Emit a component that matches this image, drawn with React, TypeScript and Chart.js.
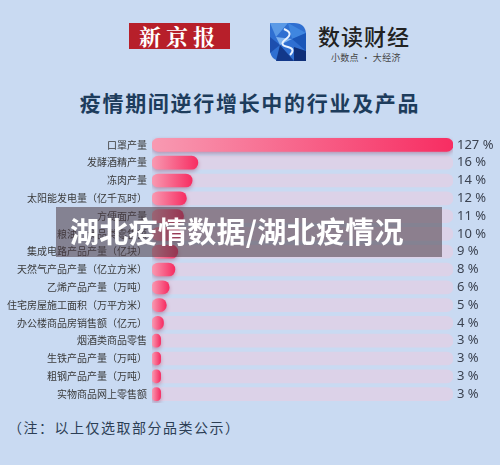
import React, { useEffect, useRef } from "react";
import { Chart, registerables } from "chart.js";

Chart.register(...registerables);

const categories = [
  "口罩产量",
  "发酵酒精产量",
  "冻肉产量",
  "太阳能发电量（亿千瓦时）",
  "方便面产量",
  "粮油、食品类零售额",
  "集成电路产品产量（亿块）",
  "天然气产品产量（亿立方米）",
  "乙烯产品产量（万吨）",
  "住宅房屋施工面积（万平方米）",
  "办公楼商品房销售额（亿元）",
  "烟酒类商品零售",
  "生铁产品产量（万吨）",
  "粗钢产品产量（万吨）",
  "实物商品网上零售额",
];
const growth = [127, 16, 14, 12, 11, 10, 9, 8, 6, 5, 4, 3, 3, 3, 3];
const valueSuffix = " %";
// axis is broken: the 127% bar is capped at the end of the track
const AXIS_MAX = 105;

const FONT = '"Noto Sans CJK SC", "Noto Sans", sans-serif';

export default function App() {
  const canvasRef = useRef<HTMLCanvasElement | null>(null);

  useEffect(() => {
    document.body.style.margin = "0";
    const canvas = canvasRef.current;
    if (!canvas) return;

    const shadowPlugin = {
      id: "barShadow",
      beforeDatasetDraw(chart: any, args: any) {
        if (args.index === 0) {
          const ctx = chart.ctx;
          ctx.save();
          ctx.shadowColor = "rgba(150,40,80,0.4)";
          ctx.shadowBlur = 4;
          ctx.shadowOffsetX = 0;
          ctx.shadowOffsetY = 2;
        }
      },
      afterDatasetDraw(chart: any, args: any) {
        if (args.index === 0) chart.ctx.restore();
      },
    };

    const valueLabels = {
      id: "valueLabels",
      afterDatasetsDraw(chart: any) {
        const ctx = chart.ctx;
        const meta = chart.getDatasetMeta(0);
        const right = chart.chartArea.right;
        ctx.save();
        ctx.font = `13px "Noto Sans", "DejaVu Sans", sans-serif`;
        ctx.fillStyle = "#3b4250";
        ctx.textAlign = "left";
        ctx.textBaseline = "middle";
        meta.data.forEach((el: any, i: number) => {
          ctx.fillText(`${growth[i]}${valueSuffix}`, right + 4, el.y);
        });
        ctx.restore();
      },
    };

    const chart = new Chart(canvas, {
      type: "bar",
      data: {
        labels: categories,
        datasets: [
          {
            data: growth.map((v) => Math.min(v, AXIS_MAX)),
            order: 1,
            grouped: false,
            barThickness: 13,
            borderRadius: 7,
            borderSkipped: false,
            backgroundColor: (c: any) => {
              const ch = c.chart;
              const xs = ch.scales && ch.scales.x;
              if (!xs || !ch.chartArea || c.raw == null) return "#f5527c";
              const x0 = xs.getPixelForValue(0);
              const x1 = xs.getPixelForValue(c.raw);
              if (!isFinite(x0) || !isFinite(x1) || x1 - x0 < 1) return "#f5527c";
              const g = ch.ctx.createLinearGradient(x0, 0, x1, 0);
              g.addColorStop(0, "#f89ab2");
              g.addColorStop(1, "#f72d62");
              return g;
            },
          } as any,
          {
            data: categories.map(() => AXIS_MAX),
            order: 2,
            grouped: false,
            barThickness: 13,
            borderRadius: 7,
            borderSkipped: false,
            backgroundColor: "#dcd2e8",
          } as any,
        ],
      },
      options: {
        indexAxis: "y",
        animation: false,
        responsive: true,
        maintainAspectRatio: false,
        layout: { padding: { left: 0, right: 47, top: 0, bottom: 0 } },
        plugins: {
          legend: { display: false },
          tooltip: { enabled: false },
        },
        scales: {
          x: {
            display: false,
            min: 0,
            max: AXIS_MAX,
          },
          y: {
            afterFit: (scale: any) => {
              scale.width = 152;
            },
            grid: { display: false, drawTicks: false },
            border: { display: false },
            ticks: {
              padding: 5,
              color: "#3a3a3a",
              font: { family: FONT, size: 10 },
              autoSkip: false,
            },
          },
        },
      },
      plugins: [shadowPlugin, valueLabels],
    } as any);

    return () => chart.destroy();
  }, []);

  return (
    <div
      style={{
        position: "fixed",
        left: 0,
        top: 0,
        width: 500,
        height: 465,
        background: "#c9daf2",
        overflow: "hidden",
        fontFamily: FONT,
      }}
    >
      {/* 新京报 logo */}
      <div
        style={{
          position: "absolute",
          left: 129,
          top: 23,
          width: 101,
          height: 26,
          background: "#b71f2a",
          color: "#fff",
          fontWeight: 700,
          fontSize: 22,
          lineHeight: "26px",
          textAlign: "center",
          letterSpacing: 5,
          fontFamily: '"Noto Serif CJK SC", "Noto Sans CJK SC", serif',
        }}
      >
        新京报
      </div>
      {/* 数读财经 icon */}
      <svg
        style={{ position: "absolute", left: 270, top: 23 }}
        width={36}
        height={38}
        viewBox="0 0 36 38"
      >
        <path d="M0 0 H24 Q36 0 36 12 V38 H12 Q0 38 0 26 Z" fill="#2f6fd1" />
        <polygon points="0,0 18,0 6,14" fill="#5b9ae6" />
        <polygon points="18,0 36,10 22,16" fill="#3f86e0" />
        <polygon points="0,14 10,22 0,30" fill="#1d4fae" />
        <polygon points="22,16 36,10 36,28" fill="#1a56b8" />
        <polygon points="10,22 24,38 6,38" fill="#12388a" />
        <polygon points="24,24 36,28 36,38 24,38" fill="#0f2f78" />
        <polygon points="6,14 22,16 10,22" fill="#7fb3ef" />
        <path
          d="M14 6 Q24 10 16 16 Q8 22 18 24 Q26 26 20 32"
          stroke="#eaf3ff"
          strokeWidth={2}
          fill="none"
        />
      </svg>
      <div
        style={{
          position: "absolute",
          left: 318,
          top: 22,
          fontSize: 22,
          lineHeight: "26px",
          color: "#222",
          letterSpacing: 1,
          fontWeight: 500,
        }}
      >
        数读财经
      </div>
      <div
        style={{
          position: "absolute",
          left: 331,
          top: 52,
          fontSize: 9,
          lineHeight: "11px",
          color: "#444",
          whiteSpace: "pre",
          letterSpacing: 0.3,
        }}
      >
        小数点 · 大经济
      </div>
      {/* title */}
      <div
        style={{
          position: "absolute",
          left: 0,
          top: 89,
          width: 500,
          textAlign: "center",
          fontSize: 21,
          lineHeight: "26px",
          fontWeight: 700,
          letterSpacing: 1.7,
          color: "#1d3c5c",
        }}
      >
        疫情期间逆行增长中的行业及产品
      </div>
      {/* chart */}
      <div
        style={{
          position: "absolute",
          left: 0,
          top: 125,
          width: 500,
          height: 289,
        }}
      >
        <canvas ref={canvasRef} />
      </div>
      {/* note */}
      <div
        style={{
          position: "absolute",
          left: 8,
          top: 418,
          fontSize: 14,
          lineHeight: "18px",
          color: "#2c3e55",
          letterSpacing: 1.5,
        }}
      >
        （注：以上仅选取部分品类公示）
      </div>
      {/* watermark overlay */}
      <div
        style={{
          position: "absolute",
          left: 56,
          top: 207,
          width: 386,
          height: 50,
          background: "rgba(75,58,68,0.55)",
          color: "#fff",
          fontWeight: 700,
          fontSize: 29,
          lineHeight: "46px",
          paddingLeft: 14,
          boxSizing: "border-box",
          letterSpacing: 0.3,
          whiteSpace: "nowrap",
        }}
      >
        湖北疫情数据/湖北疫情况
      </div>
    </div>
  );
}
